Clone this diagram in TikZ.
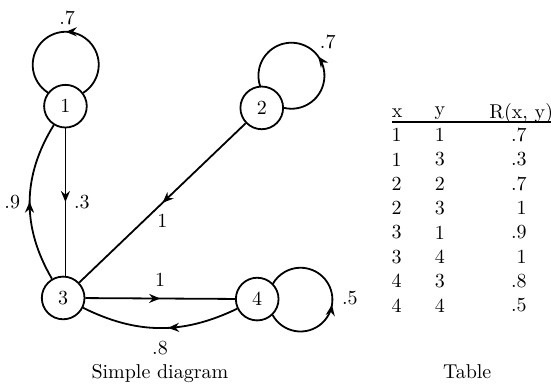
\documentclass[tikz,border=0pt]{standalone}
\usepackage{tikz}
\usetikzlibrary{arrows.meta, positioning, decorations.markings}

\begin{document}
\begin{tikzpicture}[
    font=\normalsize,
    state/.style={draw, circle, line width=0.9pt, minimum size=0.75cm, inner sep=0pt},
    link/.style={line width=0.9pt},
    midarrow/.style={postaction={decorate, decoration={markings, mark=at position #1 with {\arrow{Stealth[length=5.5pt, width=4.5pt]}}}}},
]
\useasboundingbox (0,0) rectangle (9.683,6.766);

\node[state] (n1) at (1.15, 4.90) {1};
\node[state] (n2) at (4.60, 4.87) {2};
\node[state] (n3) at (1.11, 1.53) {3};
\node[state] (n4) at (4.52, 1.51) {4};

% loops
\draw[link, midarrow=0.5] (n1.37) arc[start angle=-58, end angle=238, radius=0.58];
\draw[link, midarrow=0.46] (n2.0) arc[start angle=-103, end angle=199, radius=0.58];
\draw[link, midarrow=0.47] (n4.-46) arc[start angle=-151, end angle=151, radius=0.56];
\node (l11) at (1.18, 6.45) {.7};
\node (l22) at (5.76, 6.03) {.7};
\node (l44) at (6.15, 1.53) {.5};

% edges
\draw[link, midarrow=0.5] (n1) -- node[midway, right=0.5pt] {.3} (n3.north -| n1);
\draw[link, midarrow=0.5] (n3) to[bend left=31] node[midway, left=1pt] {.9} (n1);
\draw[link, midarrow=0.5] (n2) -- node[midway, below=2pt] {1} (n3);
\draw[link, midarrow=0.5] (n3) -- node[midway, above=2pt] {1} (n4);
\draw[link, midarrow=0.45] (n4) to[bend left=26] node[midway, below=3pt] {.8} (n3);

\node (cap1) at (2.81, 0.21) {Simple diagram};

% table
\node (hx) at (6.98, 4.78) {x};
\node (hy) at (7.73, 4.78) {y};
\node (hr) at (9.16, 4.78) {R(x, y)};
\draw[line width=0.8pt] (6.89, 4.62) -- (9.68, 4.62);
\foreach \xv/\yv/\rv [count=\i] in {1/1/.7, 1/3/.3, 2/2/.7, 2/3/1, 3/1/.9, 3/4/1, 4/3/.8, 4/4/.5} {
  \node (tx\i) at (6.97, 4.817-0.427*\i) {\xv};
  \node (ty\i) at (7.73, 4.817-0.427*\i) {\yv};
  \node[anchor=east] (tr\i) at (9.38, 4.817-0.427*\i) {\rv};
}
\node (cap2) at (8.21, 0.23) {Table};
\end{tikzpicture}
\end{document}
